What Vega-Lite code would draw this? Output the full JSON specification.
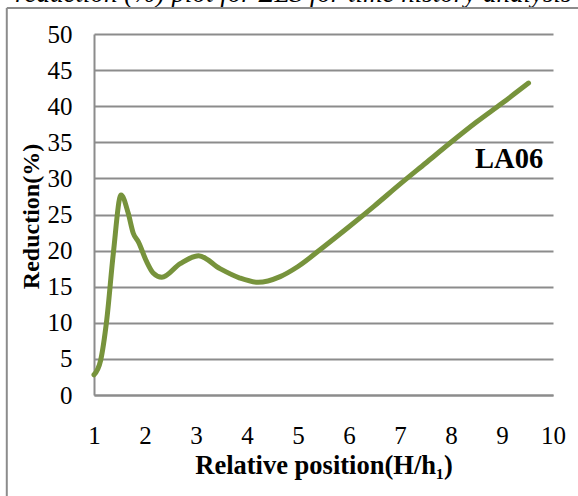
{
  "$schema": "https://vega.github.io/schema/vega-lite/v6.json",
  "autosize": "none",
  "width": 459,
  "height": 361,
  "padding": {"left": 94, "top": 34, "right": 25, "bottom": 101},
  "background": "white",
  "config": {
    "view": {"stroke": null},
    "font": "Liberation Serif"
  },
  "datasets": {
    "curve": [
      {"x": 1.0, "y": 2.8},
      {"x": 1.13, "y": 4.8},
      {"x": 1.25, "y": 10.4},
      {"x": 1.38, "y": 19.7},
      {"x": 1.53, "y": 27.7},
      {"x": 1.67, "y": 25.2},
      {"x": 1.77, "y": 22.4},
      {"x": 1.87, "y": 21.2},
      {"x": 2.03, "y": 18.5},
      {"x": 2.16, "y": 16.9},
      {"x": 2.33, "y": 16.3},
      {"x": 2.69, "y": 18.2},
      {"x": 3.05, "y": 19.3},
      {"x": 3.47, "y": 17.5},
      {"x": 3.86, "y": 16.2},
      {"x": 4.22, "y": 15.6},
      {"x": 4.65, "y": 16.4},
      {"x": 5.0, "y": 17.8},
      {"x": 5.5, "y": 20.5},
      {"x": 6.0, "y": 23.3},
      {"x": 6.5, "y": 26.2},
      {"x": 7.0, "y": 29.2},
      {"x": 7.5, "y": 32.1},
      {"x": 8.0, "y": 35.0},
      {"x": 8.5, "y": 37.8},
      {"x": 9.0, "y": 40.4},
      {"x": 9.52, "y": 43.2}
    ],
    "label": [{"x": 9.14, "y": 31.4, "name": "LA06"}],
    "caption": [{"x": -0.55, "y": 54.5, "name": "reduction (%) plot for ΣLS for time history analysis"}],
    "border": [
      {"x": -0.71, "x2": -0.71, "y": -20, "y2": 53.6},
      {"x": -0.71, "x2": 12, "y": 53.6, "y2": 53.6}
    ]
  },
  "encoding": {
    "x": {
      "field": "x", "type": "quantitative",
      "scale": {"domain": [1, 10], "nice": false, "zero": false},
      "axis": {
        "values": [1, 2, 3, 4, 5, 6, 7, 8, 9, 10],
        "grid": false, "ticks": false,
        "domainColor": "#8c8c8c", "domainWidth": 2,
        "labelFont": "Liberation Serif", "labelFontSize": 25, "labelColor": "black",
        "labelPadding": 28, "labelFlush": false, "labelOverlap": false,
        "title": "Relative position(H/h₁)",
        "titleFont": "Liberation Serif", "titleFontSize": 26.5, "titleFontWeight": "bold", "titleColor": "black",
        "titleY": 78, "titleBaseline": "alphabetic"
      }
    },
    "y": {
      "field": "y", "type": "quantitative",
      "scale": {"domain": [0, 50], "nice": false},
      "axis": {
        "values": [0, 5, 10, 15, 20, 25, 30, 35, 40, 45, 50],
        "grid": true, "gridColor": "#8c8c8c", "gridWidth": 2,
        "ticks": false,
        "domainColor": "#8c8c8c", "domainWidth": 2,
        "labelFont": "Liberation Serif", "labelFontSize": 25, "labelColor": "black",
        "labelPadding": 22, "labelFlush": false, "labelOverlap": false,
        "title": "Reduction(%)",
        "titleFont": "Liberation Serif", "titleFontSize": 24, "titleFontWeight": "bold", "titleColor": "black",
        "titleX": -56, "titleY": 182, "titleBaseline": "alphabetic", "titleAlign": "center", "titleAngle": -90
      }
    }
  },
  "layer": [
    {
      "data": {"name": "curve"},
      "mark": {"type": "line", "color": "#77933C", "strokeWidth": 5, "interpolate": "monotone", "strokeCap": "round", "strokeJoin": "round"}
    },
    {
      "data": {"name": "label"},
      "mark": {"type": "text", "font": "Liberation Serif", "fontWeight": "bold", "fontSize": 28.5, "color": "black", "align": "center", "baseline": "alphabetic"},
      "encoding": {
        "text": {"field": "name"}
      }
    },
    {
      "data": {"name": "caption"},
      "mark": {"type": "text", "font": "Liberation Serif", "fontStyle": "italic", "fontSize": 27, "color": "black", "align": "left", "baseline": "alphabetic", "clip": false},
      "encoding": {
        "text": {"field": "name"}
      }
    },
    {
      "data": {"name": "border"},
      "mark": {"type": "rule", "color": "#8c8c8c", "strokeWidth": 2, "clip": false},
      "encoding": {
        "x2": {"field": "x2"},
        "y2": {"field": "y2"}
      }
    }
  ]
}
